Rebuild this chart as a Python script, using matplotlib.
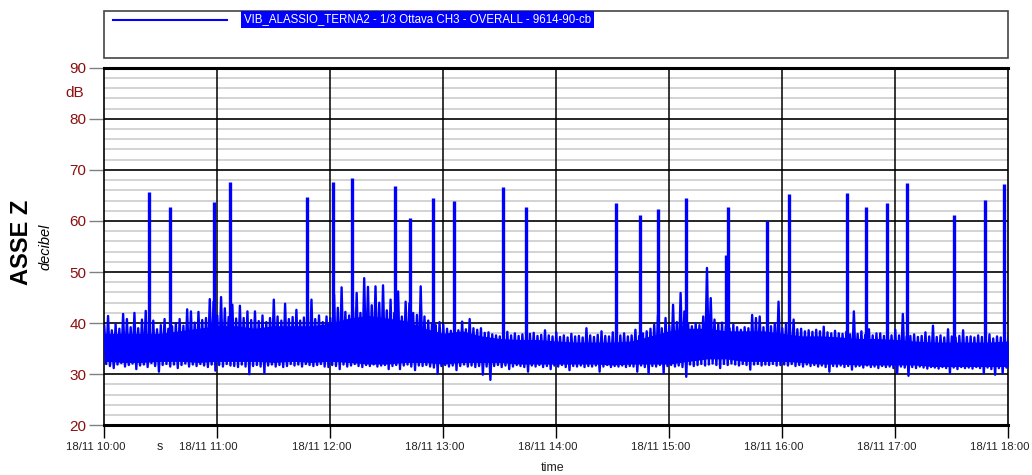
"""Vibration overall level, Alassio Terna2 CH3, 18/11 10:00-18:00."""
import matplotlib
matplotlib.use("Agg")
import matplotlib.pyplot as plt
import numpy as np
from matplotlib.lines import Line2D
from matplotlib.patches import Rectangle
from matplotlib.transforms import ScaledTranslation

plt.rcParams["font.family"] = ["Liberation Sans", "DejaVu Sans"]

# minutes after 18/11 10:00
hour_ticks = [0, 60, 120, 180, 240, 300, 360, 420, 480]
hour_labels = ["18/11 10:00", "18/11 11:00", "18/11 12:00", "18/11 13:00", "18/11 14:00",
               "18/11 15:00", "18/11 16:00", "18/11 17:00", "18/11 18:00"]

# solid core of the background level, every 10 minutes
band_min = list(range(0, 481, 10))
band_hi = [38.0, 38.0, 38.0, 38.0, 38.5, 39.0, 39.5, 39.5, 39.0, 39.5,
           39.5, 39.5, 40.0, 41.0, 41.5, 41.0, 40.5, 39.0, 38.0, 38.5,
           37.5, 37.0, 36.8, 36.8, 36.5, 36.3, 36.3, 36.3, 36.5, 37.5,
           38.5, 39.0, 39.0, 38.5, 38.5, 38.5, 38.0, 37.5, 37.5, 37.3,
           37.0, 37.0, 36.8, 36.5, 36.3, 36.3, 36.3, 36.3, 36.5]
band_lo = [32.5, 32.3, 32.3, 32.5, 32.5, 32.3, 32.5, 32.5, 32.5, 32.3,
           32.5, 32.3, 32.5, 32.3, 32.0, 32.0, 32.3, 32.3, 32.0, 32.3,
           32.3, 32.3, 32.0, 32.0, 32.0, 32.0, 32.0, 31.8, 32.0, 32.0,
           32.0, 32.5, 33.0, 33.0, 32.5, 32.5, 32.5, 32.3, 32.0, 32.0,
           31.8, 31.8, 31.8, 31.8, 31.5, 31.5, 31.5, 31.5, 31.5]

# fluctuation envelope, every 2 minutes (upper and lower tips)
swing_min = list(range(0, 481, 2))
swing_hi = [39.5, 41.4, 38.6, 39.8, 38.9, 41.8, 40.8, 39.2, 42.0, 39.0,
            40.7, 42.4, 39.3, 40.5, 38.8, 39.6, 40.8, 38.9, 39.4, 40.0,
            40.8, 39.5, 42.7, 42.3, 40.1, 42.2, 40.6, 41.0, 44.7, 44.2,
            41.5, 45.1, 42.9, 41.2, 43.6, 40.9, 43.4, 41.0, 42.3, 40.6,
            42.3, 40.4, 41.5, 40.2, 41.0, 44.6, 41.3, 40.5, 43.8, 40.8,
            41.2, 42.6, 40.5, 41.1, 40.3, 44.6, 40.8, 41.5, 40.2, 41.3,
            41.0, 45.6, 43.0, 47.0, 42.2, 41.5, 43.2, 45.9, 42.0, 48.8,
            47.1, 43.5, 47.2, 44.0, 47.4, 42.5, 44.6, 42.0, 46.2, 41.3,
            44.2, 43.9, 42.0, 41.6, 47.2, 41.3, 40.5, 40.0, 39.6, 40.2,
            39.7, 38.9, 38.5, 39.1, 38.6, 40.3, 38.8, 40.8, 39.0, 38.7,
            39.0, 38.1, 38.2, 37.8, 37.6, 37.4, 37.9, 38.3, 37.6, 38.0,
            37.5, 37.8, 37.4, 37.9, 38.1, 37.5, 37.7, 38.6, 37.6, 37.4,
            38.2, 37.3, 37.6, 37.2, 37.9, 37.4, 37.5, 37.2, 39.0, 37.6,
            37.3, 37.7, 38.4, 37.5, 37.4, 38.2, 37.3, 37.6, 38.0, 37.4,
            37.6, 38.7, 37.5, 38.0, 38.4, 38.9, 39.7, 41.6, 39.0, 41.0,
            39.5, 43.6, 40.2, 45.9, 42.3, 40.0, 39.4, 40.0, 39.6, 41.3,
            50.8, 44.9, 40.7, 39.8, 40.1, 39.4, 39.0, 39.7, 39.2, 38.7,
            39.2, 39.0, 41.6, 41.0, 41.3, 39.2, 38.9, 39.4, 40.0, 44.2,
            39.0, 40.0, 39.2, 40.7, 38.8, 38.9, 38.4, 38.6, 38.3, 38.7,
            38.4, 39.3, 38.2, 38.0, 38.5, 38.0, 37.9, 38.3, 37.8, 42.3,
            37.9, 38.4, 37.7, 38.8, 37.6, 38.0, 38.0, 37.5, 37.8, 37.6,
            38.7, 37.6, 41.8, 37.4, 37.5, 37.8, 37.3, 37.5, 38.2, 37.4,
            39.5, 37.3, 37.6, 37.2, 38.8, 37.4, 37.2, 37.5, 38.6, 37.3,
            37.4, 37.2, 37.6, 37.3, 37.1, 37.8, 37.0, 37.4, 37.2, 37.6,
            37.5]
swing_lo = [32.0, 31.6, 31.2, 31.9, 32.2, 31.5, 31.8, 32.1, 31.0, 31.7,
            31.9, 31.4, 32.2, 31.6, 30.5, 31.8, 32.0, 31.5, 31.9, 31.2,
            31.8, 32.1, 31.5, 31.9, 31.6, 32.0, 31.7, 31.4, 31.9, 30.7,
            31.8, 31.5, 32.0, 31.7, 31.6, 31.4, 31.9, 31.5, 30.0, 31.6,
            31.8, 31.5, 30.2, 31.7, 31.9, 31.5, 31.8, 31.4, 31.6, 32.0,
            31.7, 31.9, 31.5, 32.0, 31.8, 31.6, 31.8, 32.0, 31.5, 31.4,
            31.8, 31.6, 31.0, 31.9, 31.5, 31.7, 32.0, 31.6, 31.4, 31.8,
            31.6, 31.9, 31.5, 31.7, 31.8, 31.0, 31.6, 31.8, 31.0, 31.7,
            31.9, 31.5, 30.8, 31.7, 31.6, 31.8, 31.5, 31.3, 30.1, 31.6,
            31.8, 31.5, 31.7, 30.8, 31.6, 31.9, 31.5, 31.7, 31.4, 31.6,
            29.9, 31.5, 28.9, 31.6, 31.8, 31.4, 31.7, 31.0, 31.5, 31.8,
            31.6, 31.4, 30.5, 31.7, 31.5, 31.8, 31.4, 31.6, 31.0, 31.7,
            31.5, 31.8, 31.4, 30.8, 31.6, 31.5, 31.7, 31.4, 31.6, 31.5,
            31.7, 30.5, 31.5, 31.8, 31.4, 31.6, 31.5, 31.7, 31.4, 31.6,
            31.5, 30.5, 31.7, 31.4, 30.1, 31.6, 31.5, 31.8, 30.2, 31.6,
            31.8, 31.5, 31.7, 31.4, 29.5, 31.9, 31.6, 31.8, 32.0, 31.7,
            31.9, 32.1, 31.8, 31.2, 32.0, 31.8, 32.1, 31.9, 31.7, 32.0,
            31.8, 30.9, 31.9, 32.0, 31.7, 31.9, 31.8, 32.0, 31.7, 31.8,
            31.9, 31.7, 32.0, 31.6, 31.8, 31.5, 31.9, 31.6, 31.8, 31.5,
            31.7, 31.4, 30.5, 31.6, 31.5, 31.7, 31.4, 31.6, 30.9, 31.5,
            31.6, 31.3, 31.7, 31.4, 31.5, 31.2, 31.6, 31.4, 31.5, 31.2,
            30.2, 31.5, 31.3, 29.7, 31.4, 31.2, 31.5, 31.3, 31.1, 31.4,
            31.3, 31.1, 31.4, 31.2, 30.2, 31.3, 31.0, 31.4, 31.2, 31.3,
            31.1, 31.4, 31.2, 30.2, 31.3, 31.0, 29.9, 31.2, 30.2, 31.3,
            31.4]

# isolated transit events
event_min = [23.7, 35.0, 58.2, 66.7, 107.8, 121.6, 131.4, 154.5, 162.3, 174.7, 185.9, 211.9,
             223.8, 271.7, 284.5, 294.2, 308.9, 330.1, 331.3, 352.0, 363.7, 394.3, 404.6,
             415.8, 426.1, 451.3, 467.8, 477.9]
event_db = [65.7, 62.7, 63.7, 67.7, 64.7, 67.6, 68.4, 66.8, 60.6, 64.5, 63.9, 66.7,
            62.7, 63.5, 61.2, 62.3, 64.5, 53.4, 62.7, 59.9, 65.3, 65.4, 62.7,
            63.6, 67.4, 61.1, 64.2, 67.3]

BLUE = "#0000ff"
RED = "#8b0f0f"
TXT = "#222222"

fig = plt.figure(figsize=(10.32, 4.75), dpi=100)
ax = fig.add_axes([104.3 / 1032, 1 - 425.3 / 475, (1008.3 - 104.3) / 1032, (425.3 - 67.7) / 475])

# grid drawn by hand so the black hour lines stay on top of the grey 2 dB lines
for level in range(20, 91, 2):
    if level % 10:
        ax.axhline(level, color="#d0d0d0", lw=1.3, zorder=1)
for level in range(30, 90, 10):
    ax.axhline(level, color="black", lw=1.2, zorder=2)
for minute in hour_ticks[1:-1]:
    ax.axvline(minute, color="black", lw=1.1, zorder=2)

# signal: up/down swings every 2 minutes drawn as a zigzag over the solid core
swing_x = np.column_stack([swing_min, np.asarray(swing_min) + 1]).ravel()
swing_y = np.column_stack([swing_hi, swing_lo]).ravel()
ax.fill_between(band_min, band_lo, band_hi, color=BLUE, lw=0, zorder=3)
ax.plot(swing_x, swing_y, color=BLUE, lw=1.7, zorder=3)
ax.vlines(event_min, 35, event_db, color=BLUE, lw=2.4, zorder=3)

ax.set_xlim(0, 480)
ax.set_ylim(20, 90)
ax.set_xticks(hour_ticks)
ax.set_xticklabels([])
# the date labels sit a little left of their tick in the original
shift = ScaledTranslation(-8.6 / 100, -21.7 / 100, fig.dpi_scale_trans)
for minute, label in zip(hour_ticks, hour_labels):
    ax.text(minute, 0, label, transform=ax.get_xaxis_transform() + shift,
            ha="center", va="center", fontsize=8.2, color=TXT)
ax.set_yticks(range(20, 91, 10))
ax.tick_params(axis="y", direction="out", length=11, width=1, color="#808080",
               labelcolor=RED, labelsize=11, pad=2)
ax.tick_params(axis="x", direction="out", length=9, width=1, color="black")
for side in ("left", "right"):
    ax.spines[side].set_linewidth(1.2)
for side in ("top", "bottom"):
    ax.spines[side].set_linewidth(2.2)

ax.text(-0.022, 85, "dB", transform=ax.get_yaxis_transform(), ha="right", va="center",
        color=RED, fontsize=11)
fig.text(22 / 1032, 1 - 242 / 475, "ASSE Z", rotation=90, ha="center", va="center",
         fontsize=17, fontweight="bold")
fig.text(45 / 1032, 1 - 247 / 475, "decibel", rotation=90, ha="center", va="center",
         fontsize=10.5, style="italic")
fig.text(160 / 1032, 1 - 447 / 475, "s", ha="center", va="center", fontsize=9, color=TXT)
fig.text(553 / 1032, 1 - 468 / 475, "time", ha="center", va="center", fontsize=9, color=TXT)

# legend box drawn by hand (highlighted series name)
fig.add_artist(Rectangle((104.3 / 1032, 1 - 58 / 475), (1008 - 104.3) / 1032, 47 / 475,
                         transform=fig.transFigure, fill=False, edgecolor="#444444", lw=1.2))
fig.add_artist(Line2D([112.7 / 1032, 226.7 / 1032], [1 - 20.3 / 475] * 2,
                      transform=fig.transFigure, color=BLUE, lw=1.5))
fig.text(244 / 1032, 1 - 19.5 / 475,
         "VIB_ALASSIO_TERNA2 - 1/3 Ottava CH3 - OVERALL - 9614-90-cb",
         ha="left", va="center", fontsize=8.3, color="white",
         bbox=dict(facecolor=BLUE, edgecolor="none", pad=1.8))

fig.savefig("out.png", dpi=100)
